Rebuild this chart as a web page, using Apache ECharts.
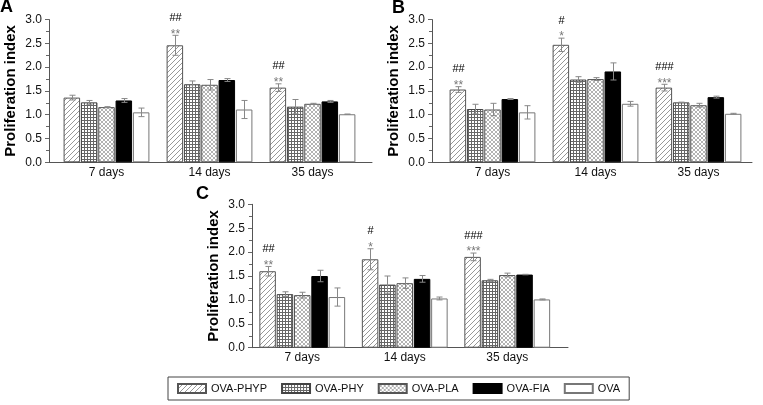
<!DOCTYPE html>
<html>
<head>
<meta charset="utf-8">
<script src="https://cdn.jsdelivr.net/npm/echarts@6/dist/echarts.min.js"></script>
<style>
html,body{margin:0;padding:0;background:#fff;}
#chart{width:763px;height:405px;}
</style>
</head>
<body>
<div id="chart"></div>
<script>
// ---------- data ----------
const categories = ['7 days', '14 days', '35 days'];
const seriesNames = ['OVA-PHYP', 'OVA-PHY', 'OVA-PLA', 'OVA-FIA', 'OVA'];
const yTicks = [0, 0.5, 1.0, 1.5, 2.0, 2.5, 3.0];

// Panel A
const A_PHYP = [1.36, 2.46, 1.57], A_PHYP_err = [0.05, 0.21, 0.08];
const A_PHY  = [1.26, 1.64, 1.17], A_PHY_err  = [0.04, 0.07, 0.15];
const A_PLA  = [1.16, 1.63, 1.23], A_PLA_err  = [0.01, 0.11, 0.01];
const A_FIA  = [1.30, 1.73, 1.28], A_FIA_err  = [0.04, 0.03, 0.02];
const A_OVA  = [1.05, 1.11, 1.01], A_OVA_err  = [0.09, 0.19, 0.005];
const A_hash = ['', '##', '##'];
const A_star = ['', '**', '**'];

// Panel B
const B_PHYP = [1.53, 2.47, 1.57], B_PHYP_err = [0.06, 0.14, 0.07];
const B_PHY  = [1.12, 1.74, 1.26], B_PHY_err  = [0.10, 0.06, 0.005];
const B_PLA  = [1.11, 1.75, 1.20], B_PLA_err  = [0.13, 0.03, 0.04];
const B_FIA  = [1.33, 1.91, 1.37], B_FIA_err  = [0.01, 0.18, 0.02];
const B_OVA  = [1.05, 1.23, 1.02], B_OVA_err  = [0.14, 0.05, 0.01];
const B_hash = ['##', '#', '###'];
const B_star = ['**', '*', '***'];

// Panel C
const C_PHYP = [1.60, 1.85, 1.90], C_PHYP_err = [0.10, 0.22, 0.08];
const C_PHY  = [1.12, 1.32, 1.41], C_PHY_err  = [0.05, 0.18, 0.02];
const C_PLA  = [1.10, 1.35, 1.52], C_PLA_err  = [0.06, 0.11, 0.04];
const C_FIA  = [1.50, 1.44, 1.53], C_FIA_err  = [0.12, 0.07, 0.005];
const C_OVA  = [1.06, 1.03, 1.01], C_OVA_err  = [0.19, 0.03, 0.01];
const C_hash = ['##', '#', '###'];
const C_star = ['**', '*', '***'];

const panels = [
  {letter: 'A', values: [A_PHYP, A_PHY, A_PLA, A_FIA, A_OVA],
   errs: [A_PHYP_err, A_PHY_err, A_PLA_err, A_FIA_err, A_OVA_err], hash: A_hash, star: A_star},
  {letter: 'B', values: [B_PHYP, B_PHY, B_PLA, B_FIA, B_OVA],
   errs: [B_PHYP_err, B_PHY_err, B_PLA_err, B_FIA_err, B_OVA_err], hash: B_hash, star: B_star},
  {letter: 'C', values: [C_PHYP, C_PHY, C_PLA, C_FIA, C_OVA],
   errs: [C_PHYP_err, C_PHY_err, C_PLA_err, C_FIA_err, C_OVA_err], hash: C_hash, star: C_star}
];

// ---------- layout (styles/positions) ----------
const layout = [
  {outer: {left: 49, top: 19.6, width: 323, height: 142.7}, inner: {left: 55, width: 309}, letter: {left: 0, top: -2}},
  {outer: {left: 432, top: 19.6, width: 320, height: 142.7}, inner: {left: 441, width: 309}, letter: {left: 392, top: -1}},
  {outer: {left: 252, top: 204.3, width: 316, height: 143.4}, inner: {left: 251, width: 307.5}, letter: {left: 196, top: 185}}
];
const BAR_W = 16.5, BAR_GAP = 0.05, PITCH = BAR_W * (1 + BAR_GAP);
const FONT = '"Liberation Sans", Arial, sans-serif';

function makeTile(size, draw) {
  const c = document.createElement('canvas');
  c.width = size; c.height = size;
  const ctx = c.getContext('2d');
  ctx.fillStyle = '#fff'; ctx.fillRect(0, 0, size, size);
  draw(ctx, size);
  return c;
}
const hatchTile = makeTile(5, (ctx, s) => {
  ctx.strokeStyle = '#8c8c8c'; ctx.lineWidth = 0.9;
  ctx.beginPath();
  ctx.moveTo(0, s); ctx.lineTo(s, 0);
  ctx.moveTo(-1, 1); ctx.lineTo(1, -1);
  ctx.moveTo(s - 1, s + 1); ctx.lineTo(s + 1, s - 1);
  ctx.stroke();
});
const gridTile = makeTile(3, (ctx, s) => {
  ctx.fillStyle = '#666';
  ctx.fillRect(0, 0, s, 1);
  ctx.fillRect(0, 0, 1, s);
});
const crossTile = makeTile(4, (ctx, s) => {
  ctx.strokeStyle = '#a0a0a0'; ctx.lineWidth = 0.8;
  ctx.beginPath();
  ctx.moveTo(0, s); ctx.lineTo(s, 0);
  ctx.moveTo(0, 0); ctx.lineTo(s, s);
  ctx.moveTo(-1, 1); ctx.lineTo(1, -1);
  ctx.moveTo(s - 1, s + 1); ctx.lineTo(s + 1, s - 1);
  ctx.moveTo(-1, s - 1); ctx.lineTo(1, s + 1);
  ctx.moveTo(s - 1, -1); ctx.lineTo(s + 1, 1);
  ctx.stroke();
});
const barStyles = [
  {color: {image: hatchTile, repeat: 'repeat'}, borderColor: '#555', borderWidth: 1},
  {color: {image: gridTile, repeat: 'repeat'}, borderColor: '#444', borderWidth: 1},
  {color: {image: crossTile, repeat: 'repeat'}, borderColor: '#555', borderWidth: 1},
  {color: '#000', borderColor: '#000', borderWidth: 1},
  {color: '#fff', borderColor: '#777', borderWidth: 1}
];

const grid = [], xAxis = [], yAxis = [], series = [], title = [];
panels.forEach((p, pi) => {
  const L = layout[pi];
  grid.push({left: L.outer.left, top: L.outer.top, width: L.outer.width, height: L.outer.height, containLabel: false, outerBoundsMode: 'none'});
  grid.push({left: L.inner.left, top: L.outer.top, width: L.inner.width, height: L.outer.height, containLabel: false, outerBoundsMode: 'none'});
  xAxis.push({gridIndex: 2 * pi, type: 'value', min: 0, max: 1,
    axisLine: {show: true, lineStyle: {color: '#555', width: 1}},
    axisTick: {show: false}, axisLabel: {show: false}, splitLine: {show: false}});
  xAxis.push({gridIndex: 2 * pi + 1, type: 'category', data: categories,
    axisLine: {show: false}, axisTick: {show: false}, splitLine: {show: false},
    axisLabel: {show: true, margin: 4, fontSize: 12, color: '#111', fontFamily: FONT}});
  yAxis.push({gridIndex: 2 * pi, type: 'value', min: yTicks[0], max: yTicks[yTicks.length - 1], interval: 0.5,
    name: 'Proliferation index', nameLocation: 'middle', nameGap: 31, nameRotate: 90,
    nameTextStyle: {fontSize: 15, fontWeight: 'bold', color: '#000', fontFamily: FONT},
    axisLine: {show: true, lineStyle: {color: '#555', width: 1}},
    axisTick: {show: true, length: 4, lineStyle: {color: '#666'}},
    minorTick: {show: true, splitNumber: 2, length: 3, lineStyle: {color: '#666'}},
    splitLine: {show: false}, minorSplitLine: {show: false},
    axisLabel: {fontSize: 12, margin: 7, color: '#111', fontFamily: FONT, formatter: v => v.toFixed(1)}});
  yAxis.push({gridIndex: 2 * pi + 1, type: 'value', min: yTicks[0], max: yTicks[yTicks.length - 1], show: false});
  title.push({text: p.letter, left: L.letter.left, top: L.letter.top, padding: 0,
    textStyle: {fontSize: 18, fontWeight: 'bold', color: '#000', fontFamily: FONT}});

  p.values.forEach((vals, si) => {
    series.push({type: 'bar', name: seriesNames[si], xAxisIndex: 2 * pi + 1, yAxisIndex: 2 * pi + 1,
      data: vals, barWidth: BAR_W, barGap: (BAR_GAP * 100) + '%', itemStyle: barStyles[si],
      emphasis: {disabled: true}, animation: false});
  });
  p.values.forEach((vals, si) => {
    const errs = p.errs[si];
    series.push({type: 'custom', name: 'err' + pi + '_' + si, xAxisIndex: 2 * pi + 1, yAxisIndex: 2 * pi + 1,
      z: 5, animation: false, silent: true,
      data: vals.map((v, i) => [i, v, errs[i]]),
      renderItem: (params, api) => {
        const ci = api.value(0), v = api.value(1), e = api.value(2);
        const base = api.coord([ci, v]);
        const x = Math.round(base[0] + (si - 2) * PITCH) + 0.5;
        const yT = api.coord([ci, v + e])[1], yB = api.coord([ci, v - e])[1];
        const st = {stroke: '#888', lineWidth: 1};
        const children = [
          {type: 'line', shape: {x1: x, y1: yT, x2: x, y2: yB}, style: st},
          {type: 'line', shape: {x1: x - 3, y1: yT, x2: x + 3, y2: yT}, style: st},
          {type: 'line', shape: {x1: x - 3, y1: yB, x2: x + 3, y2: yB}, style: st}
        ];
        if (si === 0) {
          const idx = params.dataIndex;
          if (p.star[idx]) children.push({type: 'text', style: {text: p.star[idx], x: x, y: yT - 1,
            align: 'center', verticalAlign: 'middle', fontSize: 12, fontFamily: FONT, fill: '#777'}});
          if (p.hash[idx]) children.push({type: 'text', style: {text: p.hash[idx], x: x, y: yT - 17.5,
            align: 'center', verticalAlign: 'middle', fontSize: 11, fontFamily: FONT, fill: '#000'}});
        }
        return {type: 'group', children: children};
      }});
  });
});

const option = {
  backgroundColor: '#fff',
  animation: false,
  title: title,
  legend: {data: seriesNames, left: 168, top: 377, orient: 'horizontal',
    icon: 'rect', itemWidth: 28, itemHeight: 9, itemGap: 14,
    padding: [6, 9, 6, 9], borderColor: '#444', borderWidth: 1,
    selectedMode: false,
    textStyle: {fontSize: 11, color: '#111', fontFamily: FONT}},
  grid: grid, xAxis: xAxis, yAxis: yAxis, series: series
};
const chart = echarts.init(document.getElementById('chart'), null, {renderer: 'canvas'});
chart.setOption(option);
</script>
</body>
</html>
